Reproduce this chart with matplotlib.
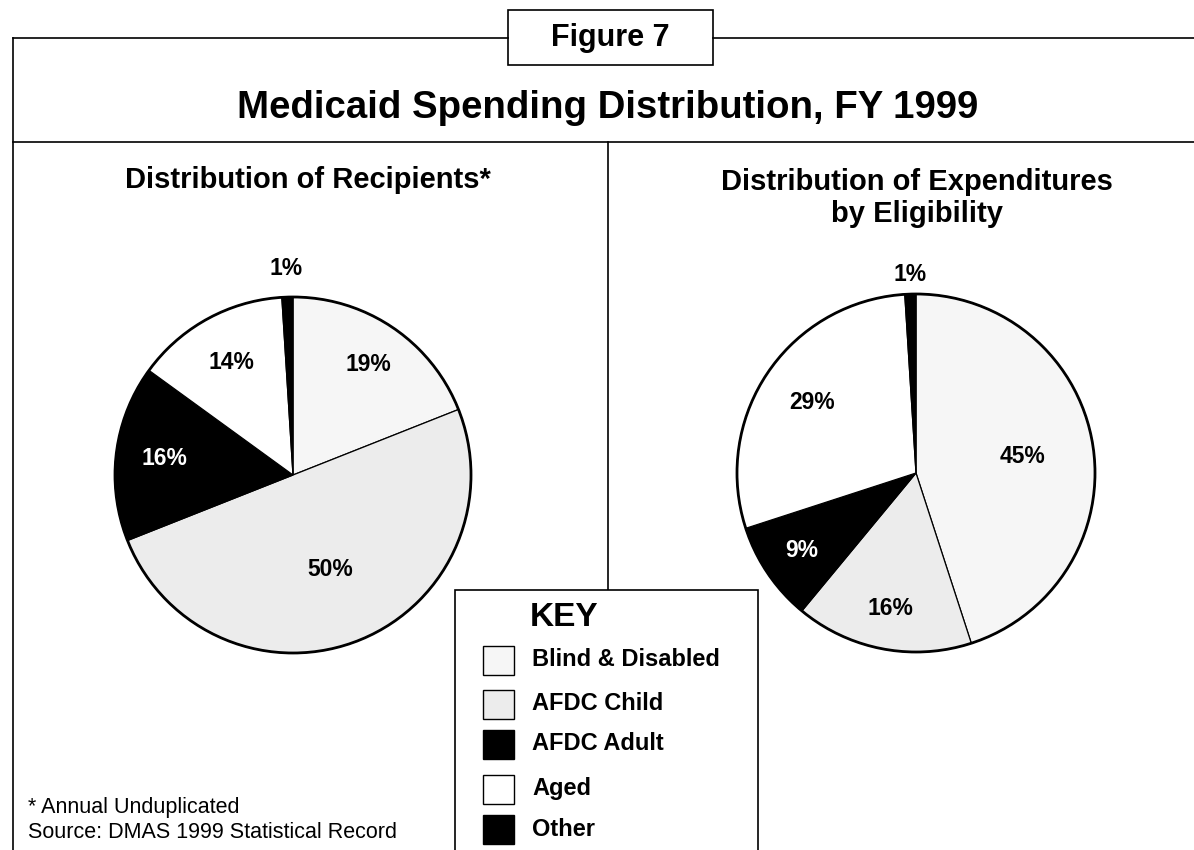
import matplotlib
matplotlib.use('Agg')
import matplotlib.pyplot as plt
from matplotlib.patches import Rectangle, Circle
import numpy as np

plt.rcParams['font.family'] = ['Liberation Sans', 'DejaVu Sans']

categories = ['Blind & Disabled', 'AFDC Child', 'AFDC Adult', 'Aged', 'Other']
recipients = [19, 50, 16, 14, 1]
expenditures = [45, 16, 9, 29, 1]
slice_colors = ['#f6f6f6', '#ececec', '#000000', '#ffffff', '#000000']
label_colors = ['black', 'black', 'white', 'black', 'black']

W, H = 1194, 850
fig = plt.figure(figsize=(W / 100, H / 100), dpi=100)

# overlay in pixel coords for frame lines and text
bg = fig.add_axes([0, 0, 1, 1])
bg.set_xlim(0, W)
bg.set_ylim(H, 0)
bg.axis('off')

lw = 1.2
bg.plot([13, 508], [38, 38], color='black', lw=lw)
bg.plot([713, W], [38, 38], color='black', lw=lw)
bg.plot([13, 13], [38, H], color='black', lw=lw)
bg.plot([13, W], [142, 142], color='black', lw=lw)
bg.plot([608, 608], [142, 590], color='black', lw=lw)
bg.add_patch(Rectangle((508, 10), 205, 55, fill=False, ec='black', lw=lw))
bg.add_patch(Rectangle((455, 590), 303, 270, fill=True, fc='white', ec='black', lw=lw, zorder=3))

bg.text(610, 38, 'Figure 7', ha='center', va='center', fontsize=22, fontweight='bold')
bg.text(608, 108, 'Medicaid Spending Distribution, FY 1999', ha='center', va='center',
        fontsize=27.6, fontweight='bold')
bg.text(308, 180, 'Distribution of Recipients*', ha='center', va='center',
        fontsize=21, fontweight='bold')
bg.text(917, 198, 'Distribution of Expenditures\nby Eligibility', ha='center', va='center',
        fontsize=21, fontweight='bold', linespacing=1.15)

# key
bg.text(530, 618, 'KEY', ha='left', va='center', fontsize=24, fontweight='bold', zorder=4)
key_y = [660, 704, 744, 789, 829]
for name, col, y in zip(categories, slice_colors, key_y):
    bg.add_patch(Rectangle((483, y - 14), 31, 29, fc=col, ec='black', lw=1, zorder=4))
    bg.text(532, y, name, ha='left', va='center', fontsize=17, fontweight='bold', zorder=4)

bg.text(28, 808, '* Annual Unduplicated', ha='left', va='center', fontsize=15.5)
bg.text(28, 833, 'Source: DMAS 1999 Statistical Record', ha='left', va='center', fontsize=15.5)


def draw_pie(cx, cy, r, values, radii):
    pad = 1.05
    ax = fig.add_axes([(cx - pad * r) / W, 1 - (cy + pad * r) / H, 2 * pad * r / W, 2 * pad * r / H])
    wedges, _ = ax.pie(values, colors=slice_colors, startangle=90, counterclock=False,
                       wedgeprops=dict(edgecolor='black', linewidth=0.9))
    ax.add_patch(Circle((0, 0), 1, fill=False, ec='black', lw=2))
    ax.set_xlim(-pad, pad)
    ax.set_ylim(-pad, pad)
    ax.set_aspect('equal')
    ax.axis('off')
    for w, v, rr, tc in zip(wedges, values, radii, label_colors):
        ang = np.deg2rad((w.theta1 + w.theta2) / 2)
        ax.text(rr * np.cos(ang), rr * np.sin(ang), f'{v}%', ha='center', va='center',
                fontsize=16.5, fontweight='bold', color=tc)
    return ax


draw_pie(293, 475, 178, recipients, [0.75, 0.57, 0.73, 0.72, 1.16])
draw_pie(916, 473, 179, expenditures, [0.60, 0.77, 0.77, 0.70, 1.11])

fig.savefig('out.png', dpi=100)
